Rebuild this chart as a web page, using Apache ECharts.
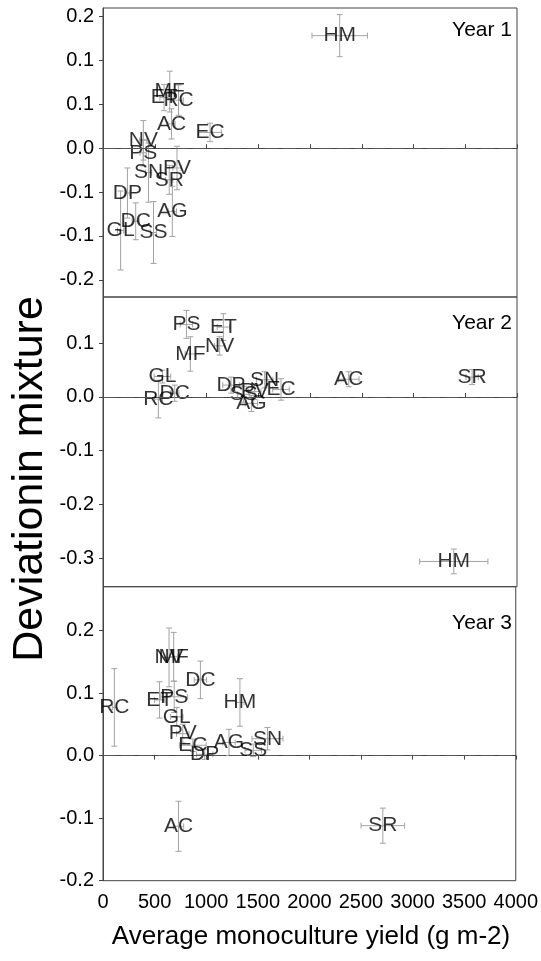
<!DOCTYPE html>
<html>
<head>
<meta charset="utf-8">
<script src="https://cdn.jsdelivr.net/npm/echarts@6/dist/echarts.min.js"></script>
<style>
  html, body { margin: 0; padding: 0; background: #fff; }
  #chart { width: 541px; height: 961px; }
</style>
</head>
<body>
<div id="chart"></div>
<script>
// Year 1
const names1 = ['HM', 'EC', 'MF', 'ET', 'RC', 'AC', 'NV', 'PS', 'SN', 'PV', 'SR', 'DP', 'AG', 'DC', 'GL', 'SS']
const yield1 = [2287, 1034, 645, 590, 730, 662, 390, 388, 440, 715, 640, 236, 670, 316, 170, 488]
const dev1 = [0.171, 0.024, 0.086, 0.077, 0.073, 0.037, 0.012, -0.007, -0.037, -0.03, -0.048, -0.068, -0.096, -0.111, -0.125, -0.128]
const yieldErr1 = [268, 110, 40, 40, 45, 35, 35, 30, 30, 40, 35, 25, 40, 35, 30, 30]
const devErr1 = [0.032, 0.014, 0.031, 0.02, 0.023, 0.023, 0.03, 0.02, 0.045, 0.033, 0.022, 0.038, 0.038, 0.028, 0.06, 0.047]

// Year 2
const names2 = ['PS', 'ET', 'NV', 'MF', 'GL', 'DC', 'RC', 'DP', 'SN', 'SS', 'PV', 'EC', 'AG', 'AC', 'SR', 'HM']
const yield2 = [806, 1163, 1127, 844, 574, 693, 535, 1237, 1562, 1359, 1466, 1720, 1434, 2374, 3566, 3389]
const dev2 = [0.135, 0.13, 0.095, 0.08, 0.038, 0.007, -0.004, 0.022, 0.032, 0.005, 0.01, 0.014, -0.012, 0.033, 0.037, -0.306]
const yieldErr2 = [60, 60, 50, 50, 80, 40, 40, 80, 80, 60, 60, 80, 60, 100, 60, 330]
const devErr2 = [0.026, 0.025, 0.017, 0.032, 0.012, 0.015, 0.035, 0.015, 0.015, 0.015, 0.015, 0.02, 0.015, 0.014, 0.014, 0.023]

// Year 3
const names3 = ['NV', 'MF', 'DC', 'ET', 'PS', 'GL', 'RC', 'HM', 'PV', 'EC', 'DP', 'AG', 'SS', 'SN', 'AC', 'SR']
const yield3 = [640, 685, 944, 548, 690, 715, 110, 1327, 773, 870, 985, 1221, 1456, 1594, 732, 2712]
const dev3 = [0.157, 0.158, 0.121, 0.089, 0.094, 0.062, 0.077, 0.085, 0.035, 0.0165, 0.002, 0.021, 0.0085, 0.027, -0.113, -0.112]
const yieldErr3 = [40, 40, 60, 50, 130, 60, 20, 40, 60, 130, 80, 60, 80, 150, 50, 211]
const devErr3 = [0.047, 0.039, 0.03, 0.029, 0.025, 0.015, 0.062, 0.038, 0.015, 0.01, 0.008, 0.021, 0.01, 0.018, 0.04, 0.028]

// axis ticks
const xTicks = [0, 500, 1000, 1500, 2000, 2500, 3000, 3500, 4000]
const yTicks1 = [-0.2, -0.1333, -0.0667, 0, 0.0667, 0.1333, 0.2]
const yTicks2 = [-0.3, -0.2, -0.1, 0, 0.1]
const yTicks3 = [-0.2, -0.1, 0, 0.1, 0.2]
const yearLabels = ['Year 1', 'Year 2', 'Year 3']

const font = 'Liberation Sans, Arial, sans-serif'
const axisColor = '#444'
const errColor = '#a3a3a3'

const panels = [
  { names: names1, x: yield1, y: dev1, ex: yieldErr1, ey: devErr1, ticks: yTicks1, min: -0.226, max: 0.213, top: 8, height: 289 },
  { names: names2, x: yield2, y: dev2, ex: yieldErr2, ey: devErr2, ticks: yTicks2, min: -0.353, max: 0.186, top: 297, height: 289.7 },
  { names: names3, x: yield3, y: dev3, ex: yieldErr3, ey: devErr3, ticks: yTicks3, min: -0.2, max: 0.27, top: 586.7, height: 294 },
]

// Error bars (x and y) with small caps
function renderErr(params, api) {
  const x = api.value(0)
  const y = api.value(1)
  const ex = api.value(2)
  const ey = api.value(3)
  const c = api.coord([x, y])
  const cap = 3
  const style = { stroke: errColor, lineWidth: 1 }
  const children = []
  const line = (x1, y1, x2, y2) => children.push({ type: 'line', shape: { x1, y1, x2, y2 }, style })
  if (ey > 0) {
    const t = api.coord([x, y + ey])[1]
    const b = api.coord([x, y - ey])[1]
    line(c[0], t, c[0], b)
    line(c[0] - cap, t, c[0] + cap, t)
    line(c[0] - cap, b, c[0] + cap, b)
  }
  if (ex > 0) {
    const l = api.coord([x - ex, y])[0]
    const r = api.coord([x + ex, y])[0]
    line(l, c[1], r, c[1])
    line(l, c[1] - cap, l, c[1] + cap)
    line(r, c[1] - cap, r, c[1] + cap)
  }
  return { type: 'group', children }
}

const grid = []
const xAxis = []
const yAxis = []
const series = []
const graphic = []

panels.forEach((p, i) => {
  const last = i === panels.length - 1
  grid.push({
    left: 103, right: 24, top: p.top, height: p.height,
    show: true, borderColor: axisColor, borderWidth: 1, backgroundColor: 'transparent',
  })
  xAxis.push({
    gridIndex: i, type: 'value', min: 0, max: 4000, interval: 500,
    axisLine: { show: true, lineStyle: { color: axisColor, width: 1 } },
    axisTick: { show: true, inside: !last, length: 4, lineStyle: { color: axisColor } },
    axisLabel: {
      show: last, color: '#000', fontSize: 20, fontFamily: font, margin: 12,
      customValues: xTicks,
      formatter: (v) => String(v),
    },
    splitLine: { show: false },
  })
  yAxis.push({
    gridIndex: i, type: 'value', min: p.min, max: p.max,
    axisLine: { show: true, lineStyle: { color: axisColor, width: 1 } },
    axisTick: { show: true, length: 4, lineStyle: { color: axisColor }, customValues: p.ticks },
    axisLabel: {
      color: '#000', fontSize: 20, fontFamily: font, margin: 9,
      customValues: p.ticks,
      formatter: (v) => v.toFixed(1),
    },
    splitLine: { show: false },
  })
  series.push({
    type: 'custom', xAxisIndex: i, yAxisIndex: i, silent: true,
    renderItem: renderErr,
    encode: { x: 0, y: 1 },
    data: p.x.map((v, k) => [v, p.y[k], p.ex[k], p.ey[k]]),
    z: 2,
  })
  series.push({
    type: 'scatter', xAxisIndex: i, yAxisIndex: i, silent: true,
    symbolSize: 1, itemStyle: { color: 'rgba(0,0,0,0)' },
    data: p.x.map((v, k) => ({ name: p.names[k], value: [v, p.y[k]] })),
    label: {
      show: true, position: 'inside', formatter: '{b}',
      color: '#000', fontSize: 21, fontFamily: font,
    },
    markLine: {
      silent: true, symbol: 'none', label: { show: false },
      lineStyle: { color: '#555', width: 1, type: [13, 5] },
      data: [{ yAxis: 0 }],
    },
    z: 3,
  })
  graphic.push({
    type: 'text', right: 29, top: [20, 313, 613][i],
    style: { text: yearLabels[i], fill: '#000', fontSize: 21, fontFamily: font },
  })
})

graphic.push({
  type: 'text', x: 30, y: 479, rotation: Math.PI / 2,
  style: { text: 'Deviationin mixture', fill: '#000', fontSize: 43, fontFamily: font, align: 'center', verticalAlign: 'middle' },
})
graphic.push({
  type: 'text', x: 311, y: 937,
  style: { text: 'Average monoculture yield (g m-2)', fill: '#000', fontSize: 26, fontFamily: font, align: 'center', verticalAlign: 'middle' },
})

const chart = echarts.init(document.getElementById('chart'))
chart.setOption({
  animation: false,
  backgroundColor: '#fff',
  grid, xAxis, yAxis, series, graphic,
})
</script>
</body>
</html>
